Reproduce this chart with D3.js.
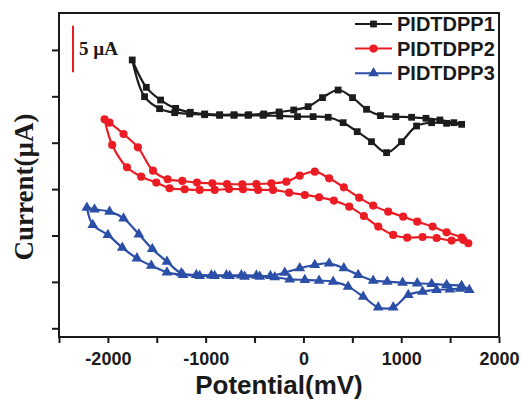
<!DOCTYPE html>
<meta charset="utf-8">
<script src="https://d3js.org/d3.v7.min.js"></script>
<style>
  body { margin: 0; background: #fff; }
</style>
<div id="my_dataviz"></div>
<script>

// ---- data (potential in mV, current in µA, relative) ----
var seriesNames = ["PIDTDPP1", "PIDTDPP2", "PIDTDPP3"];

var p1Potential = [-1751, -1607, -1461, -1307, -1157, -1010, -857, -710, -560, -406, -249, -99, 48, 195, 355, 502, 645, 788, 945, 1106, 1253, 1396, 1539, 1618,
  1464, 1311, 1157, 1003, 850, 696, 550, 406, 253, 99, -61, -242, -413, -567, -710, -857, -1010, -1164, -1317, -1471, -1625];
var p1Current = [28.92, 25.97, 24.6, 23.7, 23.28, 23.1, 23.02, 23.02, 23.02, 23.1, 23.31, 23.53, 23.89, 24.86, 25.68, 24.86, 23.6, 22.92, 22.81, 22.74, 22.63, 22.45, 22.16, 21.98,
  22.09, 22.16, 21.8, 20.11, 18.93, 20.11, 21.19, 22.16, 22.74, 22.81, 22.81, 22.88, 22.95, 22.95, 22.95, 22.95, 23.02, 23.1, 23.24, 23.67, 24.96];

var p2Potential = [-2034, -1983, -1840, -1693, -1539, -1389, -1239, -1089, -932, -782, -625, -481, -328, -174, -38, 116, 263, 413, 570, 713, 867, 1020, 1164, 1321, 1464, 1618, 1686,
  1635, 1515, 1362, 1218, 1061, 918, 765, 618, 468, 311, 160, 14, -147, -311, -464, -618, -761, -908, -1061, -1215, -1369, -1505, -1659, -1805, -1956];
var p2Current = [22.52, 22.16, 20.94, 19.5, 16.99, 16.06, 15.88, 15.7, 15.63, 15.55, 15.52, 15.55, 15.63, 15.8, 16.45, 16.88, 16.16, 15.19, 14.08, 13.22, 12.57, 12.03, 11.49, 10.96, 10.34, 9.77, 9.16,
  9.52, 9.45, 9.73, 9.84, 9.77, 10.06, 10.96, 12.1, 13.11, 13.76, 14.12, 14.37, 14.62, 14.91, 14.91, 14.98, 15.01, 14.91, 14.91, 14.98, 15.09, 15.7, 16.34, 17.35, 19.76];

var p3Potential = [-2215, -2137, -1983, -1840, -1683, -1546, -1396, -1249, -1096, -942, -788, -635, -481, -338, -191, -38, 116, 263, 413, 560, 713, 857, 1014, 1164, 1311, 1464, 1618, 1696,
  1601, 1498, 1362, 1218, 1072, 918, 765, 611, 457, 304, 160, 14, -140, -293, -447, -601, -754, -908, -1061, -1232, -1396, -1556, -1703, -1853, -2000, -2154];
var p3Current = [13.0, 12.82, 12.57, 11.85, 10.13, 8.55, 7.18, 5.93, 5.75, 5.71, 5.71, 5.71, 5.68, 5.64, 6.0, 6.47, 6.82, 7.0, 6.47, 5.75, 5.14, 5.03, 4.92, 4.85, 4.78, 4.67, 4.56, 4.13,
  4.27, 4.2, 4.13, 3.95, 3.59, 2.26, 2.26, 3.41, 4.49, 5.03, 5.14, 5.21, 5.28, 5.5, 5.57, 5.57, 5.64, 5.64, 5.64, 5.75, 6.03, 6.75, 7.54, 8.69, 10.06, 11.14];

var xTicks = [-2500, -2000, -1500, -1000, -500, 0, 500, 1000, 1500, 2000];
var xTickLabels = [-2000, -1000, 0, 1000, 2000];
var yTicks = [0, 5, 10, 15, 20, 25, 30];

// ---- layout ----
var margin = {top: 13, right: 23, bottom: 67, left: 59},
  width = 522 - margin.left - margin.right,
  height = 404 - margin.top - margin.bottom;

var svg = d3.select("#my_dataviz")
  .append("svg")
    .attr("width", width + margin.left + margin.right)
    .attr("height", height + margin.top + margin.bottom)
  .append("g")
    .attr("transform", "translate(" + margin.left + "," + margin.top + ")");

var x = d3.scaleLinear().domain([-2500, 2000]).range([0, width]);
var y = d3.scaleLinear().domain([-0.94, 33.98]).range([height, 0]);

// axes
var xAxis = svg.append("g")
  .attr("transform", "translate(0," + height + ")")
  .call(d3.axisBottom(x).tickValues(xTicks).tickSize(6)
    .tickFormat(function(d) { return xTickLabels.indexOf(d) >= 0 ? d : ""; }));
xAxis.selectAll("text")
  .attr("dy", "1.05em")
  .style("font-family", "Liberation Sans, Arial, sans-serif")
  .style("font-weight", "bold")
  .style("font-size", "18px")
  .style("fill", "#1a1a1a");

var yAxis = svg.append("g")
  .call(d3.axisLeft(y).tickValues(yTicks).tickSize(7).tickFormat(""));

svg.selectAll(".domain").remove();
svg.selectAll(".tick line").style("stroke", "#1a1a1a").style("stroke-width", 2);

// frame
svg.append("rect")
  .attr("x", 0).attr("y", 0)
  .attr("width", width).attr("height", height)
  .style("fill", "none")
  .style("stroke", "#1a1a1a")
  .style("stroke-width", 2);

// ---- series ----
var colors = ["#1c1c1c", "#ec1c24", "#2b4ea6"];
var symbols = [d3.symbolSquare, d3.symbolCircle, d3.symbolTriangle];
var symbolSizes = [46, 52, 50];
var allPot = [p1Potential, p2Potential, p3Potential];
var allCur = [p1Current, p2Current, p3Current];

var line = d3.line()
  .x(function(d) { return x(d.p); })
  .y(function(d) { return y(d.c); })
  .curve(d3.curveCatmullRom.alpha(0.5));

seriesNames.forEach(function(name, i) {
  var pts = allPot[i].map(function(p, j) { return {p: p, c: allCur[i][j]}; });
  var loop = pts.concat([pts[0]]);
  svg.append("path")
    .datum(loop)
    .attr("d", line)
    .style("fill", "none")
    .style("stroke", colors[i])
    .style("stroke-width", 2.2);
  svg.selectAll(".m" + i)
    .data(pts)
    .enter()
    .append("path")
      .attr("class", "m" + i)
      .attr("transform", function(d) { return "translate(" + x(d.p) + "," + y(d.c) + ")"; })
      .attr("d", d3.symbol().type(symbols[i]).size(symbolSizes[i]))
      .style("fill", colors[i]);
});

// ---- legend ----
var legend = svg.append("g").attr("transform", "translate(296,11)");
seriesNames.forEach(function(name, i) {
  var row = legend.append("g").attr("transform", "translate(0," + (i * 24.6) + ")");
  row.append("line")
    .attr("x1", 0).attr("x2", 37).attr("y1", 0).attr("y2", 0)
    .style("stroke", colors[i]).style("stroke-width", 2);
  row.append("path")
    .attr("transform", "translate(18.5,0)")
    .attr("d", d3.symbol().type(symbols[i]).size(symbolSizes[i]))
    .style("fill", colors[i]);
  row.append("text")
    .attr("x", 42).attr("y", 7)
    .style("font-family", "Liberation Sans, Arial, sans-serif")
    .style("font-weight", "bold")
    .style("font-size", "20px")
    .style("fill", "#1a1a1a")
    .text(name);
});

// ---- scale bar (5 µA) ----
svg.append("line")
  .attr("x1", 14).attr("x2", 14)
  .attr("y1", y(32.6)).attr("y2", y(27.6))
  .style("stroke", "#ec1c24")
  .style("stroke-width", 2);
svg.append("text")
  .attr("x", 20).attr("y", 42)
  .style("font-family", "Liberation Serif, Times New Roman, serif")
  .style("font-weight", "bold")
  .style("font-size", "19px")
  .style("fill", "#1a1a1a")
  .text("5 µA");

// ---- axis titles ----
svg.append("text")
  .attr("x", width / 2)
  .attr("y", height + 57)
  .attr("text-anchor", "middle")
  .style("font-family", "Liberation Sans, Arial, sans-serif")
  .style("font-weight", "bold")
  .style("font-size", "26px")
  .style("fill", "#1a1a1a")
  .text("Potential(mV)");

svg.append("text")
  .attr("transform", "translate(-26," + (height / 2 + 12) + ") rotate(-90)")
  .attr("text-anchor", "middle")
  .style("font-family", "Liberation Serif, Times New Roman, serif")
  .style("font-weight", "bold")
  .style("font-size", "27px")
  .style("fill", "#1a1a1a")
  .text("Current(µA)");

</script>
